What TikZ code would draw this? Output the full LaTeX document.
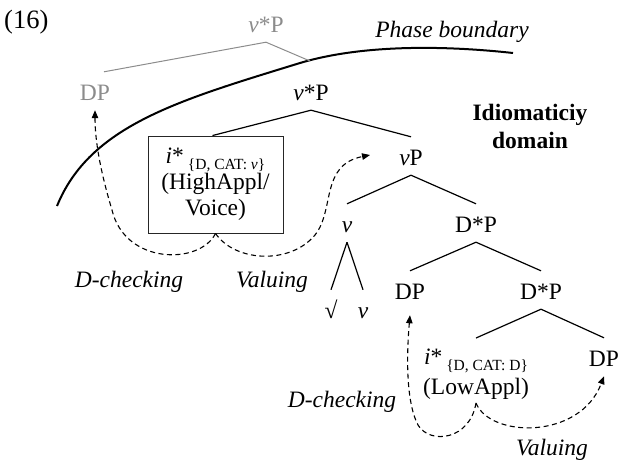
\documentclass[tikz,border=0pt]{standalone}
\usepackage{fontspec}
\setmainfont{Liberation Serif}
\usetikzlibrary{arrows.meta,calc}
\definecolor{phgray}{RGB}{140,140,140}
\begin{document}
\begin{tikzpicture}[x=1pt,y=-1pt,
  every node/.style={font=\fontsize{23.5}{26}\selectfont},
  tn/.style={text height=23pt,text depth=5pt,inner ysep=5pt,inner xsep=2pt,anchor=base},
  branch/.style={line width=1.2pt},
  gbranch/.style={line width=1pt,draw=phgray},
  dep/.style={dash pattern=on 5pt off 3.5pt,line width=1.1pt,-{Triangle[length=8pt,width=6.5pt]}},
  lbl/.style={anchor=base,inner sep=0pt,font=\fontsize{23.5}{26}\selectfont\itshape},
]
\useasboundingbox (0,0) rectangle (620,463);
% example number
\node[anchor=base west,inner sep=0pt,font=\fontsize{26.5}{30}\selectfont] (num) at (4,28) {(16)};
% grey tree
\node[tn,text=phgray] (gvP) at (266,32) {\textit{v}*P};
\node[tn,text=phgray] (gDP) at (95,100) {DP};
\coordinate (pb) at (310,61);
% phase boundary
\draw[line width=2pt] (57,206) .. controls (90,125) and (180,100) .. (300,63) .. controls (360,45) and (440,45) .. (513,53);
\node[lbl] (phase) at (452,37) {Phase boundary};
\draw[gbranch] (gvP.south) -- ([xshift=9pt]gDP.north);
\draw[gbranch] (gvP.south) -- (pb);
% main tree
\node[tn] (vsP) at (311,100) {\textit{v}*P};
\node[draw=black!85,line width=0.9pt,minimum width=135pt,minimum height=97pt,inner sep=0pt,align=center] (high) at (215.5,184.5)
  {\textit{i}*\,\raisebox{-6pt}{\fontsize{15.5}{15}\selectfont\{D, CAT: \textit{v}\}}\\(HighAppl/\\Voice)};
\node[align=center,inner sep=0pt,font=\fontsize{23.5}{28}\selectfont\bfseries] (idiom) at (530,126) {Idiomaticiy\\domain};
\node[tn] (vP) at (411,165) {\textit{v}P};
\node[tn] (v) at (347,232) {\textit{v}};
\node[tn] (DsP) at (476,232) {D*P};
\node[tn] (root) at (331,318) {√};
\node[tn] (vhead) at (363,318) {\textit{v}};
\node[tn] (DP) at (410,299) {DP};
\node[tn] (DsP2) at (541,299) {D*P};
\node[tn] (DP2) at (604,366) {DP};
\node[align=center,inner sep=3pt] (low) at (476,374.5)
  {\textit{i}*\,\raisebox{-6pt}{\fontsize{15.5}{15}\selectfont\{D, CAT: D\}}\\[4pt](LowAppl)};
\coordinate (vPtip) at ($(vP.base west)+(-27,-10)$);
\draw[branch] (vsP.south) -- ([xshift=-3pt]high.north);
\draw[branch] (vsP.south) -- (vP.north);
\draw[branch] (vP.south) -- (v.north);
\draw[branch] (vP.south) -- (DsP.north);
\draw[branch] (v.south) -- (root.north);
\draw[branch] (v.south) -- (vhead.north);
\draw[branch] (DsP.south) -- (DP.north);
\draw[branch] (DsP.south) -- (DsP2.north);
\draw[branch] (DsP2.south) -- ([yshift=8pt]low.north);
\draw[branch] (DsP2.south) -- (DP2.north);
% dependencies
\draw[dep] (high.south) .. controls (200,265) and (125,265) .. (112,210) .. controls (100,170) and (95,140) .. (gDP.south);
\draw[dep] (high.south) .. controls (235,262) and (290,265) .. (315,235) .. controls (335,210) and (320,165) .. (vPtip);
\draw[dep] (low.south) .. controls (470,440) and (430,445) .. (418,425) .. controls (405,400) and (407,350) .. ([yshift=-6pt]DP.south);
\draw[dep] (low.south) .. controls (490,438) and (580,440) .. (DP2.south);
% labels
\node[lbl] (dchk1) at (129,287) {D-checking};
\node[lbl] (val1) at (272,287) {Valuing};
\node[lbl] (dchk2) at (342,407) {D-checking};
\node[lbl] (val2) at (552,455) {Valuing};
\end{tikzpicture}
\end{document}
